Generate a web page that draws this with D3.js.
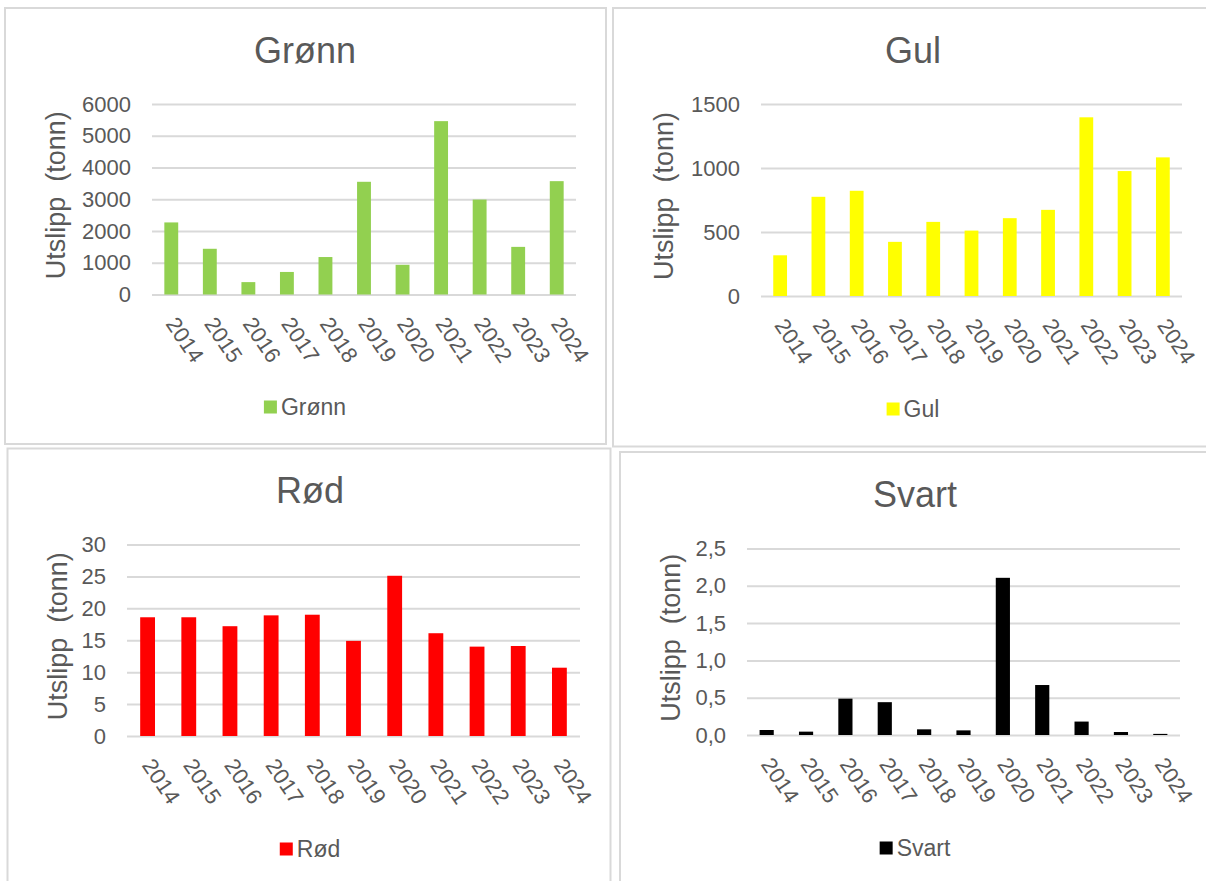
<!DOCTYPE html>
<html>
<head>
<meta charset="utf-8">
<script src="https://cdn.jsdelivr.net/npm/d3@7"></script>
<style>
  html, body { margin: 0; padding: 0; background: #ffffff; }
  svg { display: block; font-family: "Liberation Sans", Arial, sans-serif; }
  .ytitle { white-space: pre; }
</style>
</head>
<body>
<svg id="chart" width="1206" height="881"></svg>
<script>
// Utslipp per år, fordelt på fargekategori (tonn)
const years = ["2014", "2015", "2016", "2017", "2018", "2019", "2020", "2021", "2022", "2023", "2024"];

const gronnValues = [2270, 1440, 390, 710, 1180, 3550, 935, 5460, 2990, 1500, 3570];
const gulValues   = [318, 775, 822, 423, 579, 511, 608, 673, 1396, 976, 1083];
const rodValues   = [18.6, 18.6, 17.2, 18.9, 19.0, 14.9, 25.1, 16.1, 14.0, 14.1, 10.7];
const svartValues = [0.067, 0.045, 0.487, 0.44, 0.076, 0.062, 2.107, 0.67, 0.18, 0.04, 0.015];

const gronnTicks = [0, 1000, 2000, 3000, 4000, 5000, 6000];
const gulTicks   = [0, 500, 1000, 1500];
const rodTicks   = [0, 5, 10, 15, 20, 25, 30];
const svartTicks = [0, 0.5, 1.0, 1.5, 2.0, 2.5];

const yTitle = "Utslipp  (tonn)";
const textColor = "#595959";
const gridColor = "#d9d9d9";

const commaOneDecimal = v => d3.format(".1f")(v).replace(".", ",");

// Layout for the four chart panels
const panels = [
  { name: "Grønn", values: gronnValues, ticks: gronnTicks, color: "#92D050", fmt: d3.format("d"),
    frame: [5, 8, 606, 444], plot: [152, 576, 104, 294.5], titleX: 305, titleY: 63, yTitleX: 57, legendY: 407 },
  { name: "Gul", values: gulValues, ticks: gulTicks, color: "#FFFF00", fmt: d3.format("d"),
    frame: [613, 8, 1215, 446.5], plot: [761, 1182, 104, 296], titleX: 913, titleY: 63, yTitleX: 665, legendY: 409 },
  { name: "Rød", values: rodValues, ticks: rodTicks, color: "#FF0000", fmt: d3.format("d"),
    frame: [7.5, 448.5, 610.5, 895], plot: [127, 580, 544.5, 736], titleX: 310, titleY: 503, yTitleX: 59, legendY: 849 },
  { name: "Svart", values: svartValues, ticks: svartTicks, color: "#000000", fmt: commaOneDecimal,
    frame: [620, 452, 1215, 895], plot: [747, 1180, 548.5, 735], titleX: 915, titleY: 507, yTitleX: 672, legendY: 848 }
];

const svg = d3.select("#chart");

function drawPanel(p) {
  const g = svg.append("g");
  const [fx0, fy0, fx1, fy1] = p.frame;
  const [x0, x1, yTop, yBase] = p.plot;

  // Panel frame
  g.append("rect")
    .attr("x", fx0).attr("y", fy0)
    .attr("width", fx1 - fx0).attr("height", fy1 - fy0)
    .attr("fill", "#ffffff")
    .attr("stroke", gridColor)
    .attr("stroke-width", 2);

  const x = d3.scaleBand().domain(years).range([x0, x1]).paddingInner(0).paddingOuter(0);
  const y = d3.scaleLinear().domain([0, d3.max(p.ticks)]).range([yBase, yTop]);

  // Title
  g.append("text")
    .attr("x", p.titleX).attr("y", p.titleY)
    .attr("text-anchor", "middle")
    .attr("fill", textColor)
    .attr("font-size", 36)
    .text(p.name);

  // Gridlines and value labels
  const yAxis = d3.axisLeft(y)
    .tickValues(p.ticks)
    .tickFormat(p.fmt)
    .tickSize(-(x1 - x0))
    .tickPadding(21);
  const ya = g.append("g").attr("transform", `translate(${x0},0)`).call(yAxis);
  ya.select(".domain").remove();
  ya.selectAll(".tick line").attr("stroke", gridColor).attr("stroke-width", 2);
  ya.selectAll(".tick text")
    .attr("fill", textColor)
    .attr("font-size", 22)
    .attr("font-family", "Liberation Sans, Arial, sans-serif");

  // Bars
  const barW = x.bandwidth() * 0.36;
  g.append("g").selectAll("rect")
    .data(p.values)
    .join("rect")
    .attr("x", (d, i) => x(years[i]) + (x.bandwidth() - barW) / 2)
    .attr("y", d => y(d))
    .attr("width", barW)
    .attr("height", d => yBase - y(d))
    .attr("fill", p.color);

  // Category labels, rotated
  const xAxis = d3.axisBottom(x).tickSize(0).tickPadding(0);
  const xa = g.append("g").attr("transform", `translate(0,${yBase})`).call(xAxis);
  xa.select(".domain").remove();
  xa.selectAll(".tick text")
    .attr("fill", textColor)
    .attr("font-size", 22)
    .attr("font-family", "Liberation Sans, Arial, sans-serif")
    .attr("text-anchor", "start")
    .attr("y", 0)
    .attr("dy", "0.35em")
    .attr("transform", "translate(0,25) rotate(56)");

  // Y-axis title
  g.append("text")
    .attr("class", "ytitle")
    .attr("transform", `translate(${p.yTitleX + 8},${(yTop + yBase) / 2 - 4}) rotate(-90)`)
    .attr("text-anchor", "middle")
    .attr("fill", textColor)
    .attr("font-size", 27)
    .text(yTitle);

  // Legend
  const lg = g.append("g");
  const sq = 13;
  const lt = lg.append("text")
    .attr("fill", textColor)
    .attr("font-size", 23)
    .attr("y", p.legendY + 8)
    .text(p.name);
  const tw = lt.node().getComputedTextLength();
  const total = sq + 4 + tw;
  const lx = p.titleX - total / 2;
  lg.insert("rect", "text")
    .attr("x", lx).attr("y", p.legendY - sq / 2)
    .attr("width", sq).attr("height", sq)
    .attr("fill", p.color);
  lt.attr("x", lx + sq + 4);
}

panels.forEach(drawPanel);
</script>
</body>
</html>
